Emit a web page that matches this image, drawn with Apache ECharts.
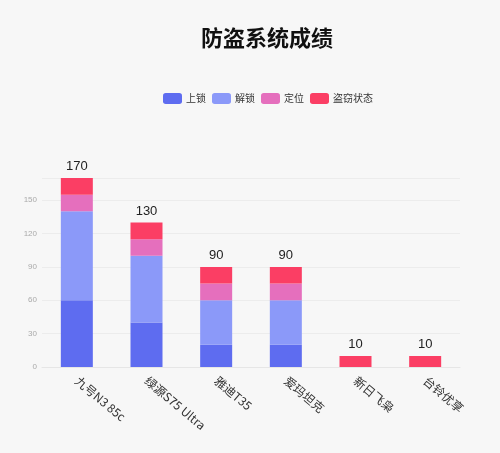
<!DOCTYPE html>
<html>
<head>
<meta charset="utf-8">
<title>防盗系统成绩</title>
<script src="https://cdn.jsdelivr.net/npm/echarts@6/dist/echarts.min.js"></script>
<style>
    html, body { margin: 0; padding: 0; background: #f7f7f7; }
    #main { width: 500px; height: 453px; }
</style>
</head>
<body>
<div id="main"></div>
<script>
var categories = ["九号N3 85c", "绿源S75 Ultra", "雅迪T35", "爱玛坦克", "新日飞枭", "台铃优享"];
var lockData = [60, 40, 20, 20, 0, 0];
var unlockData = [80, 60, 40, 40, 0, 0];
var locateData = [15, 15, 15, 15, 0, 0];
var theftData = [15, 15, 15, 15, 10, 10];
var seriesNames = ["上锁", "解锁", "定位", "盗窃状态"];
var colors = ["#5e6cf0", "#8b99f9", "#e56fbd", "#fb3e64"];

// 每个柱子的总数，显示在顶部
var totals = categories.map(function (c, i) {
    return lockData[i] + unlockData[i] + locateData[i] + theftData[i];
});

var chart = echarts.init(document.getElementById('main'));

var allData = [lockData, unlockData, locateData, theftData];
var series = allData.map(function (d, k) {
    var s = {
        name: seriesNames[k],
        type: 'bar',
        stack: 'total',
        barWidth: 32,
        itemStyle: { color: colors[k] },
        data: d
    };
    if (k === 3) {
        s.label = {
            show: true,
            position: 'top',
            color: '#222',
            fontSize: 13,
            formatter: function (p) {
                return totals[p.dataIndex];
            }
        };
    }
    return s;
});

var option = {
    backgroundColor: '#f7f7f7',
    title: {
        text: '防盗系统成绩',
        left: 196,
        top: 22,
        textStyle: {
            fontSize: 22,
            fontWeight: 'bold',
            color: '#111',
            fontFamily: 'Noto Sans CJK SC'
        }
    },
    legend: {
        data: seriesNames,
        top: 88,
        left: 158,
        icon: 'roundRect',
        itemWidth: 19,
        itemHeight: 11,
        itemGap: 6,
        textStyle: { fontSize: 10, color: '#333', fontFamily: 'Noto Sans CJK SC', padding: [0, 0, 0, -1] }
    },
    grid: {
        left: 42,
        right: 40,
        top: 178,
        bottom: 86
    },
    xAxis: {
        type: 'category',
        data: categories,
        axisLine: { lineStyle: { color: '#e6e6e6' } },
        axisTick: { show: false },
        axisLabel: {
            rotate: -40,
            interval: 0,
            color: '#333',
            fontSize: 12,
            margin: 12,
            fontFamily: 'Noto Sans CJK SC'
        }
    },
    yAxis: {
        type: 'value',
        min: 0,
        max: 170,
        interval: 30,
        axisLine: { show: false },
        axisTick: { show: false },
        axisLabel: { color: '#aaa', fontSize: 8, margin: 5, showMaxLabel: false },
        splitLine: { lineStyle: { color: '#ececec' } }
    },
    series: series
};

chart.setOption(option);
</script>
</body>
</html>
